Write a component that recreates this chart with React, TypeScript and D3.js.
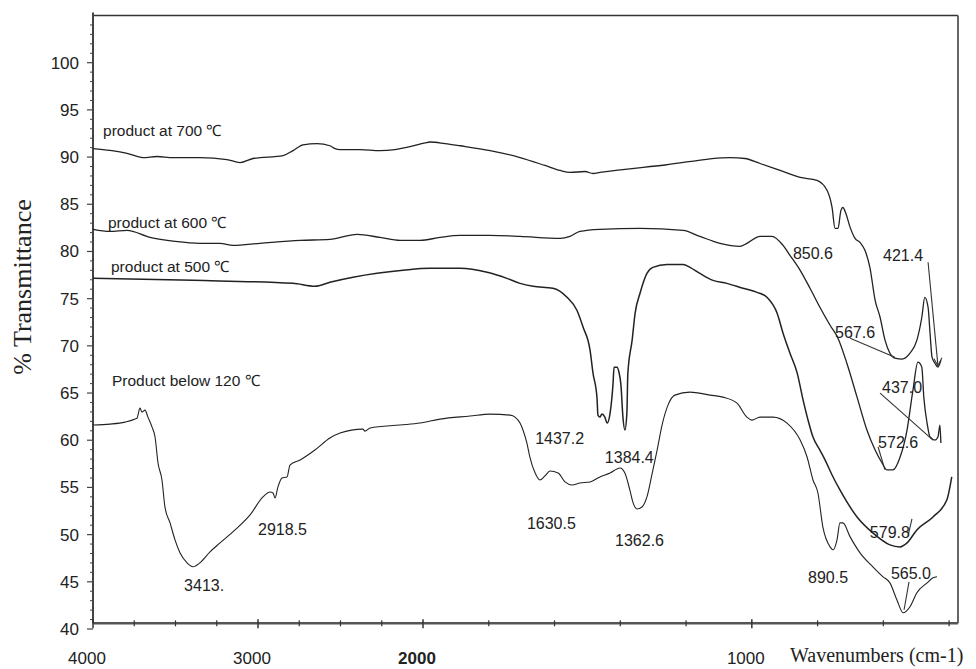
import * as d3 from 'd3';

const W = 976;
const H = 669;

// FTIR axis: scale changes at 2000 cm-1 (expanded below)
const xBreaks = [4000, 2000, 373];
const yExtent = [40, 105];
const xAxisValue = 40.6;

const xMajor = [4000, 3000, 2000, 1000];
const xMinor = [3750, 3500, 3250, 2750, 2500, 2250, 1800, 1600, 1400, 1200, 800, 600, 400];
const yMajor = [40, 45, 50, 55, 60, 65, 70, 75, 80, 85, 90, 95, 100];

type Pt = [number, number];

// [wavenumber, %T]
const p700: Pt[] = [
  [4000, 90.9], [3897, 90.7], [3794, 90.4], [3697, 89.95], [3612, 90.06], [3515, 89.95],
  [3352, 89.95], [3188, 89.74], [3109, 89.42], [3030, 89.85], [2848, 90.16], [2788, 90.69],
  [2727, 91.3], [2642, 91.43], [2564, 91.2], [2533, 90.9], [2503, 90.8], [2382, 90.8],
  [2261, 90.69], [2170, 90.8], [2079, 91.1], [1994, 91.5], [1979, 91.6], [1933, 91.43],
  [1887, 91.2], [1796, 90.69], [1705, 89.95], [1629, 89.11], [1583, 88.58], [1553, 88.37],
  [1507, 88.47], [1483, 88.26], [1462, 88.37], [1264, 89.16], [1066, 89.95], [1021, 89.85], [975, 89.32],
  [914, 88.58], [853, 87.84], [802, 87.52], [771, 86.46], [756, 84.66], [747, 82.44],
  [738, 82.44], [729, 84.35], [723, 84.66], [714, 84.03], [701, 82.55], [686, 81.38],
  [671, 80.96], [656, 80.12], [641, 78.32], [625, 74.83], [610, 73.03], [595, 70.6],
  [580, 69.22], [565, 68.69], [543, 68.59], [519, 69.22], [498, 70.6], [483, 73.03],
  [474, 75.14], [464, 74.09], [458, 71.34], [452, 68.8], [443, 68.16], [434, 67.74], [425, 68.48],
];

const p600: Pt[] = [
  [4000, 82.34], [3897, 82.12], [3794, 82.23], [3655, 81.49], [3503, 81.07], [3352, 80.86],
  [3230, 80.86], [3152, 80.64], [2988, 80.86], [2745, 81.17], [2564, 81.28], [2400, 81.81],
  [2261, 81.49], [2139, 81.17], [2018, 81.17], [1948, 81.49], [1887, 81.7], [1796, 81.7],
  [1705, 81.6], [1583, 81.38], [1553, 81.6], [1523, 82.12], [1462, 82.34], [1340, 82.44],
  [1209, 82.23], [1158, 81.6], [1097, 80.86], [1036, 80.54], [1015, 80.86], [975, 81.6],
  [939, 81.6], [905, 80.64], [884, 79.59], [853, 78.0], [823, 76.1], [793, 74.09],
  [762, 72.18], [738, 70.81], [711, 68.16], [680, 64.57], [650, 61.08], [625, 58.96],
  [604, 57.59], [589, 56.85], [571, 56.85], [549, 58.22], [528, 61.08], [510, 65.31],
  [495, 68.27], [483, 67.74], [477, 64.57], [467, 61.82], [458, 60.34], [443, 60.02],
  [434, 60.34], [428, 61.61], [425, 59.7],
];

const p500: Pt[] = [
  [4000, 77.15], [3394, 76.94], [2788, 76.62], [2655, 76.31], [2564, 76.73], [2424, 77.26],
  [2279, 77.68], [2121, 78.0], [1979, 78.21], [1887, 78.21], [1805, 77.79], [1745, 77.15],
  [1705, 76.62], [1665, 76.31], [1605, 76.1], [1562, 75.14], [1532, 73.77], [1513, 71.97],
  [1492, 69.54], [1483, 67.11], [1471, 64.57], [1468, 62.66], [1462, 62.45], [1456, 62.77],
  [1447, 62.45], [1440, 61.82], [1431, 62.87], [1422, 66.05], [1419, 67.74], [1410, 67.74],
  [1404, 67.2], [1398, 65.84], [1392, 62.45], [1386, 61.08], [1380, 62.87], [1377, 67.11],
  [1364, 70.6], [1355, 73.45], [1340, 75.57], [1319, 77.68], [1301, 78.32], [1258, 78.63],
  [1209, 78.63], [1188, 78.32], [1158, 77.68], [1118, 76.94], [1076, 76.62], [1027, 76.1],
  [984, 75.67], [954, 75.14], [923, 73.45], [905, 71.34], [884, 69.22], [862, 67.11],
  [844, 64.25], [829, 62.13], [814, 60.34], [793, 58.96], [777, 57.9], [756, 56.32],
  [732, 54.73], [680, 51.87], [632, 50.18], [580, 48.91], [549, 48.7], [528, 49.12],
  [498, 50.5], [449, 51.87], [407, 53.67], [392, 56.11],
];

const p120: Pt[] = [
  [4000, 61.61], [3897, 61.71], [3806, 61.92], [3745, 62.24], [3733, 62.35], [3715, 63.4],
  [3703, 62.98], [3685, 63.19], [3667, 62.45], [3642, 61.39], [3624, 60.34], [3606, 57.59],
  [3582, 55.79], [3564, 52.93], [3533, 51.24], [3503, 49.44], [3473, 48.07], [3430, 47.01],
  [3394, 46.59], [3352, 47.01], [3291, 48.17], [3230, 49.12], [3139, 50.5], [3048, 52.09],
  [2970, 53.99], [2927, 54.52], [2909, 54.41], [2897, 53.88], [2879, 55.05], [2855, 56.0],
  [2824, 56.11], [2806, 57.37], [2745, 57.9], [2655, 58.96], [2564, 60.23], [2503, 60.76],
  [2364, 61.18], [2352, 60.97], [2321, 61.29], [2139, 61.61], [2018, 61.82], [1948, 62.24],
  [1857, 62.56], [1796, 62.77], [1735, 62.66], [1720, 62.45], [1705, 61.82], [1696, 61.08],
  [1684, 59.7], [1675, 58.22], [1659, 56.53], [1644, 55.79], [1629, 56.22], [1614, 56.74],
  [1589, 56.53], [1568, 55.58], [1547, 55.26], [1523, 55.47], [1492, 55.58], [1462, 56.11],
  [1431, 56.53], [1401, 57.06], [1386, 56.53], [1371, 54.73], [1361, 53.36], [1349, 52.72],
  [1334, 52.93], [1319, 53.99], [1304, 56.32], [1288, 58.96], [1273, 61.61], [1255, 63.72],
  [1234, 64.78], [1188, 65.1], [1127, 64.78], [1088, 64.57], [1045, 63.93], [1015, 62.45],
  [1000, 62.13], [975, 62.45], [936, 62.45], [893, 61.82], [853, 60.02], [832, 58.22],
  [814, 55.79], [799, 54.41], [784, 50.82], [762, 48.7], [753, 48.39], [741, 49.44],
  [732, 51.24], [723, 51.24], [701, 49.76], [671, 48.07], [632, 46.59], [601, 45.53],
  [580, 44.89], [559, 43.1], [540, 41.72], [519, 42.36], [498, 43.84], [467, 44.89],
  [449, 45.42], [437, 45.53],
];

const seriesNames = ['product at 700 ℃', 'product at 600 ℃', 'product at 500 ℃', 'Product below 120 ℃'];
const seriesLabelAt: Pt[] = [[3939, 92.2], [3909, 82.45], [3891, 77.8], [3885, 65.75]];
const seriesData = [p700, p600, p500, p120];
const seriesWidth = [1.3, 1.3, 1.5, 1.1];

const peakNames = ['850.6', '421.4', '567.6', '437.0', '572.6', '579.8', '565.0', '890.5',
  '1362.6', '1384.4', '1437.2', '1630.5', '2918.5', '3413.'];
const peakAt: Pt[] = [
  [875, 79.16], [601, 78.95], [747, 70.81], [604, 64.99], [616, 59.17], [641, 49.65],
  [577, 45.32], [829, 44.89], [1416, 48.81], [1447, 57.59], [1659, 59.6], [1684, 50.6],
  [3000, 49.97], [3448, 44.05],
];

// leader lines from label to band, [from, to]
const leaders: [Pt, Pt][] = [
  [[464, 78.85], [434, 67.9]],
  [[701, 70.81], [565, 68.8]],
  [[610, 64.99], [449, 60.02]],
  [[616, 59.28], [595, 56.85]],
  [[522, 45.0], [537, 42.04]],
  [[513, 51.66], [525, 49.86]],
];

const x = d3.scaleLinear().domain(xBreaks).range([93, 423, 958]);
const y = d3.scaleLinear().domain(yExtent).range([629, 15.5]);

const line = d3
  .line<Pt>()
  .x((d) => x(d[0]))
  .y((d) => y(d[1]))
  .curve(d3.curveMonotoneX);

const sans = '"Liberation Sans", Arial, sans-serif';
const serif = '"Liberation Serif", "Times New Roman", serif';

export default function App() {
  const left = x(xBreaks[0]);
  const right = x(xBreaks[2]);
  const top = y(yExtent[1]);
  const bottom = y(xAxisValue);
  const yMinor = d3.range(41, 106).filter((v) => v % 5 !== 0);

  return (
    <svg
      width={W}
      height={H}
      style={{ position: 'absolute', left: 0, top: 0, background: '#fff' }}
      fontFamily={sans}
    >
      {/* frame */}
      <line x1={left} x2={right} y1={top} y2={top} stroke="#333" strokeWidth={1.5} />
      <line x1={right} x2={right} y1={top} y2={bottom} stroke="#666" strokeWidth={2} />
      <line x1={left} x2={left} y1={top - 3} y2={bottom} stroke="#444" strokeWidth={2} />
      <line x1={left} x2={right} y1={bottom} y2={bottom} stroke="#555" strokeWidth={2.5} />

      {/* y ticks */}
      {yMinor.map((v) => (
        <line key={'ym' + v} x1={left - 3} x2={left} y1={y(v)} y2={y(v)} stroke="#444" strokeWidth={1} />
      ))}
      {yMajor.map((v) => (
        <g key={'y' + v}>
          <line x1={left - 6} x2={left} y1={y(v)} y2={y(v)} stroke="#444" strokeWidth={1.2} />
          <text x={79} y={y(v) + 6} textAnchor="end" fontSize={17} fill="#222">
            {v}
          </text>
        </g>
      ))}

      {/* x ticks */}
      {xMinor.map((v) => (
        <line key={'xm' + v} x1={x(v)} x2={x(v)} y1={bottom - 3} y2={bottom + 3} stroke="#333" strokeWidth={1.2} />
      ))}
      {xMajor.map((v) => (
        <g key={'x' + v}>
          <line x1={x(v)} x2={x(v)} y1={bottom - 4} y2={bottom + 5} stroke="#333" strokeWidth={1.5} />
          <text
            x={x(v) - 6}
            y={664}
            textAnchor="middle"
            fontSize={17}
            fontWeight={v === 2000 ? 'bold' : 'normal'}
            fill="#222"
          >
            {v}
          </text>
        </g>
      ))}

      {/* axis titles */}
      <text
        transform={`translate(31,${287}) rotate(-90)`}
        textAnchor="middle"
        fontFamily={serif}
        fontSize={26}
        fill="#222"
      >
        % Transmittance
      </text>
      <text x={790} y={662} fontFamily={serif} fontSize={20} fill="#222">
        Wavenumbers (cm-1)
      </text>

      {/* spectra */}
      {seriesData.map((d, i) => (
        <path key={'s' + i} d={line(d) ?? ''} fill="none" stroke="#222" strokeWidth={seriesWidth[i]} strokeLinejoin="round" />
      ))}

      {/* leaders */}
      {leaders.map(([a, b], i) => (
        <line key={'l' + i} x1={x(a[0])} y1={y(a[1])} x2={x(b[0])} y2={y(b[1])} stroke="#333" strokeWidth={1.1} />
      ))}
      {/* arrow head on the 421.4 leader */}
      <path
        d={`M${x(leaders[0][1][0]) - 4},${y(leaders[0][1][1]) - 7} L${x(leaders[0][1][0])},${y(leaders[0][1][1])} L${x(leaders[0][1][0]) + 4},${y(leaders[0][1][1]) - 8}`}
        fill="none"
        stroke="#333"
        strokeWidth={1.1}
      />

      {/* series labels */}
      {seriesNames.map((s, i) => (
        <text key={'n' + i} x={x(seriesLabelAt[i][0])} y={y(seriesLabelAt[i][1])} fontSize={15.5} fill="#222">
          {s}
        </text>
      ))}

      {/* peak labels */}
      {peakNames.map((s, i) => (
        <text key={'p' + i} x={x(peakAt[i][0])} y={y(peakAt[i][1])} fontSize={16} fill="#222">
          {s}
        </text>
      ))}
    </svg>
  );
}
